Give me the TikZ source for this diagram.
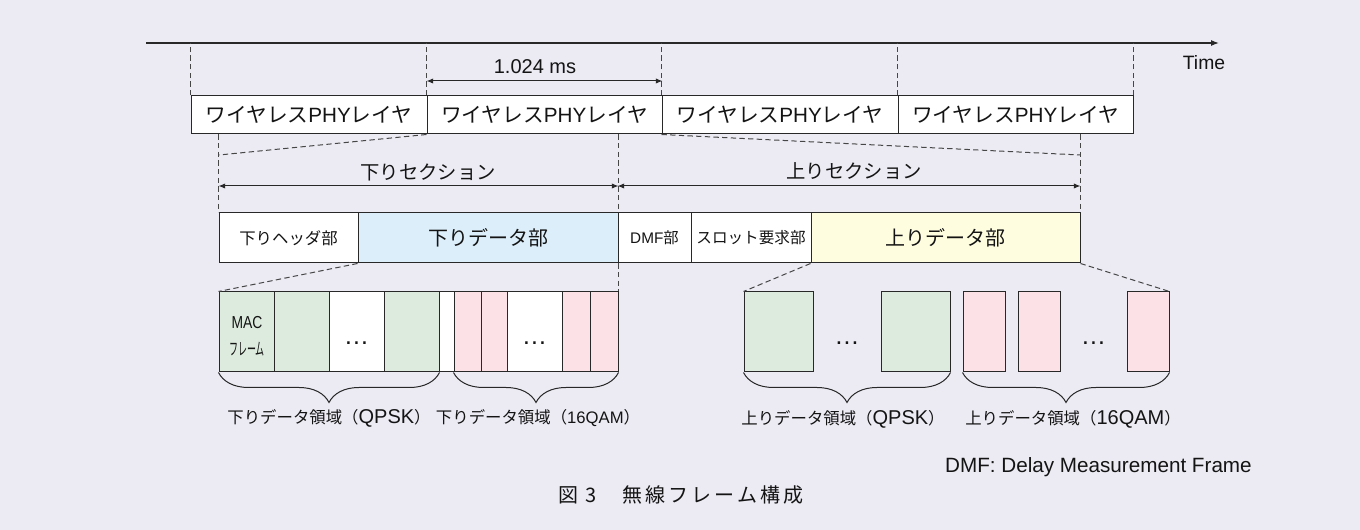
\documentclass[tikz,border=0pt]{standalone}
\usepackage{graphicx}
\usepackage{fontspec}
\setmainfont{Liberation Sans}
\newfontfamily\jp{Noto Sans CJK JP}
\newfontfamily\jpcap[LetterSpace=15]{Noto Sans CJK JP}
\usetikzlibrary{arrows.meta,decorations.pathreplacing,calc}
\definecolor{bg}{RGB}{236,234,243}
\definecolor{linec}{RGB}{40,40,40}
\definecolor{dashc}{RGB}{70,70,70}
\definecolor{txtc}{RGB}{20,20,20}
\definecolor{gfill}{RGB}{220,235,221}
\definecolor{pfill}{RGB}{252,225,231}
\definecolor{bfill}{RGB}{220,238,250}
\definecolor{yfill}{RGB}{255,253,224}
\newcommand\fsz[1]{\fontsize{#1}{#1}\selectfont}
\newcommand\bx[7]{\node[box,#6,minimum width={(#4-#2)*0.75pt},minimum height={(#5-#3)*0.75pt}] (#1) at ({(#2+#4)/2},{(#3+#5)/2}) {#7};}
\newcommand\phytxt{\fsz{15.5}{\jp ワイヤレス}PHY{\jp レイヤ}}
\newcommand\rgn[3]{{\jp\fsz{12.3}#1データ領域（}{\fsz{#3}#2}{\jp\fsz{12.3}）}}
\begin{document}
\begin{tikzpicture}[x=0.75pt,y=-0.75pt,
  every node/.style={inner sep=0pt,text=txtc},
  box/.style={draw=linec,line width=0.75pt,fill=white},
  dsh/.style={draw=dashc,line width=0.75pt,dash pattern=on 4pt off 2.5pt},
  dim/.style={draw=linec,line width=0.75pt,{Latex[length=5pt,width=4pt]}-{Latex[length=5pt,width=4pt]}},
  brc/.style={draw=linec,line width=0.75pt,decorate,decoration={brace,mirror,amplitude=22.5pt}},
  dotsn/.style={anchor=base,font=\fontsize{19}{19}\selectfont}]
\fill[bg] (0,0) rectangle (1360,530);
\useasboundingbox (0,0) rectangle (1360,530);
% time axis
\coordinate (axL) at (146,43);
\coordinate (axR) at (1219,43);
\draw[linec,line width=0.9pt,-{Latex[length=6pt,width=4.5pt]}] (axL) -- (axR);
\node (time) at (1204,63) {\fsz{14.5}Time};
% PHY boxes
\bx{p1}{191}{96}{427}{134}{}{\phytxt}
\bx{p2}{427}{96}{662}{134}{}{\phytxt}
\bx{p3}{662}{96}{898}{134}{}{\phytxt}
\bx{p4}{898}{96}{1133}{134}{}{\phytxt}
\foreach \n in {p1,p2,p3,p4} \draw[dsh] (\n.north west) -- (\n.north west |- axL);
\draw[dsh] (p4.north east) -- (p4.north east |- axL);
\coordinate (msy) at (0,81);
\draw[dim] (p2.north west |- msy) -- (p2.north east |- msy);
\node (ms) at (535,67) {\fsz{15}1.024 ms};
% second row
\bx{hdr}{219}{213}{358}{263}{}{\fsz{12.3}\jp 下りヘッダ部}
\bx{dl}{358}{213}{618}{263}{fill=bfill}{\fsz{15}\jp 下りデータ部}
\bx{dmf}{618}{213}{691}{263}{}{\fsz{11.5}DMF{\jp 部}}
\bx{slot}{691}{213}{811}{263}{}{\fsz{11.7}\jp スロット要求部}
\bx{ud}{811}{213}{1080}{263}{fill=yfill}{\fsz{15}\jp 上りデータ部}
% sections
\coordinate (secy) at (0,186);
\draw[dim] (hdr.north west |- secy) -- (dl.north east |- secy);
\draw[dim] (dmf.north west |- secy) -- (ud.north east |- secy);
\node (secD) at (428,172) {\fsz{14.5}\jp 下りセクション};
\node (secU) at (854,171) {\fsz{14.5}\jp 上りセクション};
\coordinate (sL) at (219,155);
\coordinate (sR) at (1080,155);
\draw[dsh] (p2.south west) -- (sL);
\draw[dsh] (p3.south west) -- (sR);
\draw[dsh] (p1.south -| hdr.north west) -- (hdr.north west);
\draw[dsh] (p1.south -| dl.north east) -- (dl.north east);
\draw[dsh] (p1.south -| ud.north east) -- (ud.north east);
% lower left group
\bx{lowL}{219}{292}{618}{372}{}{}
\bx{q1}{219}{292}{274}{372}{fill=gfill}{}
\bx{q2}{274}{292}{329}{372}{fill=gfill}{}
\bx{q3}{329}{292}{384}{372}{}{}
\bx{q4}{384}{292}{439}{372}{fill=gfill}{}
\bx{h1}{454}{292}{481}{372}{fill=pfill}{}
\bx{h2}{481}{292}{507}{372}{fill=pfill}{}
\bx{h3}{507}{292}{562}{372}{}{}
\bx{h4}{562}{292}{590}{372}{fill=pfill}{}
\bx{h5}{590}{292}{618}{372}{fill=pfill}{}
\node[align=center,font=\fontsize{13}{20.6}\selectfont] (mac) at (247,336) {\scalebox{0.8}[1]{MAC}\\\scalebox{0.52}[1]{\jp フレーム}};
\coordinate (doty) at (0,345);
\node[dotsn] (d1) at (q3.center |- doty) {…};
\node[dotsn] (d2) at (h3.center |- doty) {…};
\draw[dsh] (dl.south west) -- (lowL.north west);
\draw[dsh] (dl.south east) -- (lowL.north east);
% lower right group
\bx{uq1}{744}{292}{813}{372}{fill=gfill}{}
\bx{uq2}{881}{292}{950}{372}{fill=gfill}{}
\bx{uh1}{963}{292}{1005}{372}{fill=pfill}{}
\bx{uh2}{1018}{292}{1060}{372}{fill=pfill}{}
\bx{uh3}{1127}{292}{1169}{372}{fill=pfill}{}
\node[dotsn] (d3) at ($(uq1.east |- doty)!0.5!(uq2.west |- doty)$) {…};
\node[dotsn] (d4) at ($(uh2.east |- doty)!0.5!(uh3.west |- doty)$) {…};
\draw[dsh] (ud.south west) -- (uq1.north west);
\draw[dsh] (ud.south east) -- (uh3.north east);
% braces
\draw[brc] (q1.south west) -- (q4.south east);
\draw[brc] (h1.south west) -- (h5.south east);
\draw[brc] (uq1.south west) -- (uq2.south east);
\draw[brc] (uh1.south west) -- (uh3.south east);
\node (lq) at (329,418) {\rgn{下り}{QPSK}{15}};
\node (lh) at (538,418) {\rgn{下り}{16QAM}{12.5}};
\node (uq) at (843,419) {\rgn{上り}{QPSK}{15}};
\node (uh) at (1073,419) {\rgn{上り}{16QAM}{15}};
% notes
\node[anchor=east] (note) at (1252,467) {\fsz{15.5}DMF: Delay Measurement Frame};
\node[anchor=west] (cap) at (558,495) {\fsz{15}\jpcap 図 3　無線フレーム構成};
\end{tikzpicture}
\end{document}
